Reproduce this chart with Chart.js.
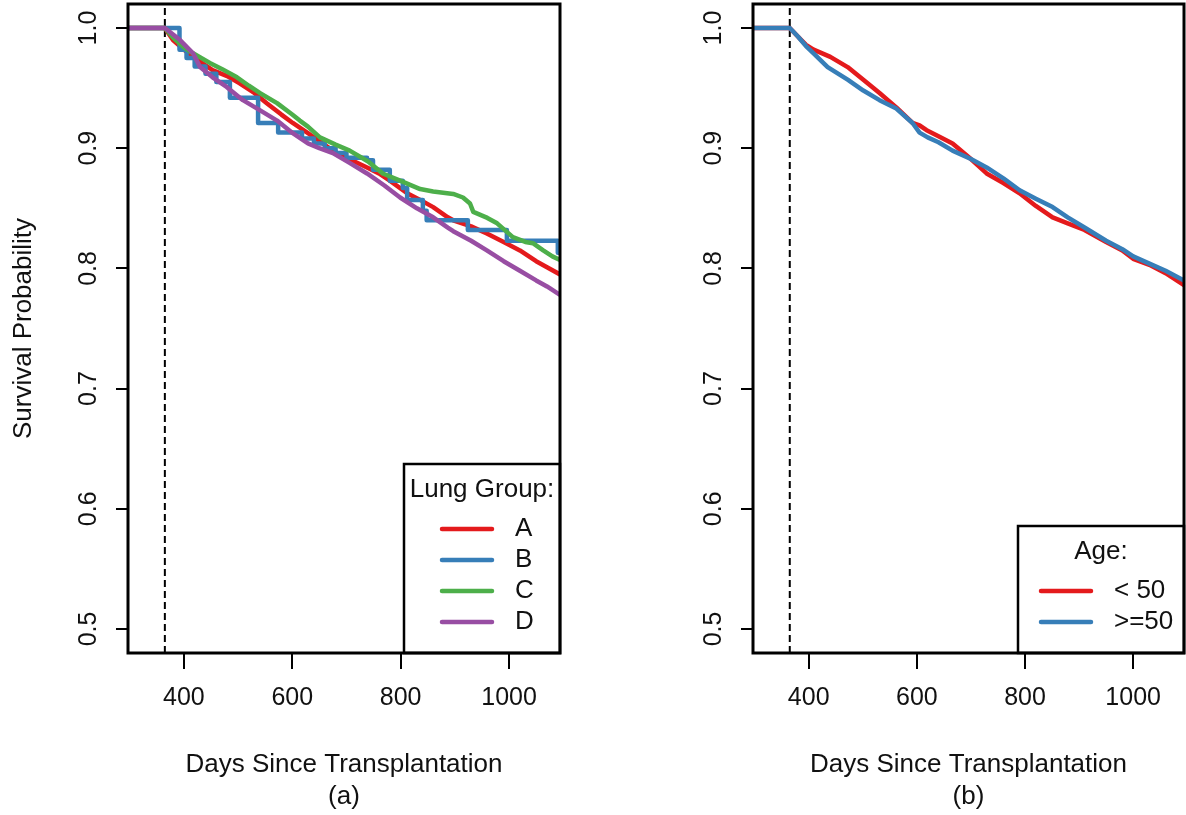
<!DOCTYPE html>
<html><head><meta charset="utf-8">
<script src="https://cdn.jsdelivr.net/npm/chart.js@4.4.1/dist/chart.umd.min.js"></script>
<style>
html,body{margin:0;padding:0;background:#fff;width:1186px;height:815px;overflow:hidden;}
canvas{position:absolute;top:0;}
#c1{left:0;}
#c2{left:625px;}
</style></head><body>
<canvas id="c1" width="593" height="815"></canvas>
<canvas id="c2" width="561" height="815"></canvas>
<script>
// ---------- data ----------
const xTicks = [400, 600, 800, 1000];
const yTicks = [0.5, 0.6, 0.7, 0.8, 0.9, 1.0];
const yTickLabels = ['0.5', '0.6', '0.7', '0.8', '0.9', '1.0'];
const landmarkDay = 365;
const xTitle = 'Days Since Transplantation';
const panelTags = ['(a)', '(b)'];
const yTitle = 'Survival Probability';

const lungTitle = 'Lung Group:';
const lungGroups = ['A', 'B', 'C', 'D'];
const ageTitle = 'Age:';
const ageGroups = ['< 50', '>=50'];

const aDays = [297,365,380,400,430,453,480,503,530,553,580,601,629,650,675,705,738,760,780,812,836,860,887,897,930,959,990,1020,1050,1070,1094];
const aSurv = [1,1,0.99,0.982,0.972,0.965,0.96,0.954,0.946,0.9375,0.928,0.921,0.9125,0.906,0.898,0.891,0.884,0.879,0.873,0.8625,0.857,0.851,0.8425,0.84,0.835,0.829,0.822,0.815,0.806,0.801,0.795];

const bDays = [297,392,405,420,440,460,485,537,574,618,640,660,680,700,738,749,780,804,812,841,848,924,996,1090,1094];
const bSurv = [1,0.982,0.975,0.968,0.962,0.955,0.942,0.921,0.913,0.908,0.904,0.9,0.896,0.892,0.89,0.882,0.873,0.867,0.857,0.848,0.84,0.832,0.823,0.813,0.813];

const cDays = [297,365,380,400,417,448,470,498,520,540,572,600,614,629,651,680,706,740,767,799,836,860,897,915,928,934,960,978,1007,1030,1044,1063,1080,1094];
const cSurv = [1,1,0.992,0.984,0.979,0.971,0.966,0.959,0.952,0.946,0.9375,0.928,0.923,0.918,0.909,0.903,0.898,0.889,0.879,0.873,0.866,0.864,0.862,0.859,0.854,0.847,0.842,0.8375,0.826,0.822,0.821,0.815,0.81,0.807];

const dDays = [297,365,393,417,430,453,479,509,540,572,601,629,650,675,705,738,770,799,830,860,887,897,930,959,990,1020,1050,1070,1094];
const dSurv = [1,1,0.99,0.979,0.9675,0.959,0.951,0.94,0.9317,0.923,0.9125,0.904,0.9,0.896,0.888,0.879,0.869,0.859,0.85,0.8425,0.834,0.831,0.823,0.815,0.806,0.798,0.79,0.785,0.778];

const youngDays = [297,365,380,395,409,440,472,501,531,562,592,605,618,640,666,700,729,760,790,820,851,879,910,950,980,1000,1030,1060,1094];
const youngSurv = [1,1,0.993,0.986,0.982,0.976,0.9675,0.957,0.946,0.934,0.921,0.919,0.915,0.91,0.904,0.891,0.879,0.871,0.8625,0.852,0.8425,0.8375,0.832,0.822,0.815,0.808,0.803,0.796,0.786];

const oldDays = [297,365,380,395,409,435,472,501,531,562,592,605,620,640,666,700,729,760,790,820,851,879,910,950,980,1000,1030,1060,1094];
const oldSurv = [1,1,0.993,0.985,0.979,0.9675,0.957,0.948,0.94,0.933,0.921,0.913,0.909,0.905,0.898,0.891,0.884,0.875,0.865,0.858,0.851,0.8425,0.834,0.823,0.816,0.81,0.804,0.798,0.79];

// ---------- styles ----------
const FONT = '"Liberation Sans", Arial, Helvetica, sans-serif';
const TXT = '#111';
const RED = '#E41A1C', BLUE = '#377EB8', GREEN = '#4DAF4A', PURPLE = '#984EA3';
const X_MIN = 297, X_MAX = 1094, Y_MIN = 0.48, Y_MAX = 1.02;
const FS = 25;

const pts = (xs, ys) => xs.map((x, i) => ({x: x, y: ys[i]}));

function curve(label, xs, ys, color, order, stepped) {
  return {label, data: pts(xs, ys), borderColor: color, backgroundColor: color,
    borderWidth: 4.5, pointRadius: 0, fill: false, tension: 0, stepped: !!stepped,
    borderJoinStyle: 'round', borderCapStyle: 'butt', order};
}
function landmark() {
  return {label: '', data: [{x: landmarkDay, y: Y_MIN}, {x: landmarkDay, y: Y_MAX}],
    borderColor: '#000', borderWidth: 2, borderDash: [7, 4], pointRadius: 0, order: 10};
}

const framePlugin = {
  id: 'frame',
  afterDraw(chart, args, opts) {
    const ctx = chart.ctx, a = chart.chartArea, ys = chart.scales.y;
    ctx.save();
    // rotated y tick labels
    ctx.fillStyle = TXT;
    ctx.font = FS + 'px ' + FONT;
    ctx.textAlign = 'center';
    ctx.textBaseline = 'middle';
    yTicks.forEach((v, i) => {
      const y = ys.getPixelForValue(v);
      ctx.save();
      ctx.translate(a.left - 39, y);
      ctx.rotate(-Math.PI / 2);
      ctx.fillText(yTickLabels[i], 0, 0);
      ctx.restore();
    });
    // legend box
    const L = opts.legend;
    if (L) {
      const right = a.right, bottom = a.bottom;
      const left = right - L.w;
      const n = L.labels.length;
      const rowH = 31;
      const top = bottom - (n * rowH + 39 + 26);
      ctx.fillStyle = '#fff';
      ctx.fillRect(left, top, L.w, bottom - top);
      ctx.strokeStyle = '#000';
      ctx.lineWidth = 2.5;
      ctx.strokeRect(left, top, L.w, bottom - top);
      ctx.fillStyle = TXT;
      ctx.font = '26px ' + FONT;
      ctx.textAlign = 'center';
      const firstY = bottom - n * rowH;
      ctx.fillText(L.title, left + L.titleX, firstY - 39);
      ctx.textAlign = 'left';
      L.labels.forEach((lab, i) => {
        const y = firstY + i * rowH;
        ctx.strokeStyle = L.colors[i];
        ctx.lineWidth = 4.5;
        ctx.lineCap = 'round';
        ctx.beginPath();
        ctx.moveTo(left + L.lineX, y);
        ctx.lineTo(left + L.lineX + 50, y);
        ctx.stroke();
        ctx.fillStyle = TXT;
        ctx.fillText(lab, left + L.lineX + 73, y);
      });
    }
    // plot frame
    ctx.strokeStyle = '#000';
    ctx.lineWidth = 3;
    ctx.lineCap = 'butt';
    ctx.strokeRect(a.left, a.top, a.right - a.left, a.bottom - a.top);
    ctx.restore();
  }
};

function makeOptions(canvasW, rightEdge, showYTitle, tag, legend) {
  return {
    responsive: false, animation: false, events: [],
    layout: {padding: {top: 4, right: canvasW - rightEdge, bottom: 0, left: 0}},
    plugins: {legend: {display: false}, tooltip: {enabled: false}, frame: {legend}},
    scales: {
      x: {
        type: 'linear', min: X_MIN, max: X_MAX,
        afterBuildTicks: s => { s.ticks = xTicks.map(v => ({value: v})); },
        afterFit: s => { s.height = 162; },
        border: {display: false},
        grid: {drawOnChartArea: false, drawTicks: true, tickLength: 16, tickWidth: 2,
               tickColor: '#000', color: '#000', lineWidth: 2},
        ticks: {padding: 14, font: {size: FS, family: FONT}, color: TXT,
                maxRotation: 0, minRotation: 0, autoSkip: false, callback: v => String(v)},
        title: {display: true, text: [xTitle, tag], color: TXT,
                font: {size: 26, family: FONT, lineHeight: 1.23}, padding: {top: 0, bottom: 2}}
      },
      y: {
        type: 'linear', min: Y_MIN, max: Y_MAX,
        afterBuildTicks: s => { s.ticks = yTicks.map(v => ({value: v})); },
        afterFit: s => { s.width = 128; },
        border: {display: false},
        grid: {drawOnChartArea: false, drawTicks: true, tickLength: 12, tickWidth: 2,
               tickColor: '#000', color: '#000', lineWidth: 2},
        ticks: {display: false},
        title: {display: showYTitle, text: yTitle, color: TXT,
                font: {size: 26, family: FONT, lineHeight: 1.2}, padding: {top: 8, bottom: 0}}
      }
    }
  };
}

new Chart(document.getElementById('c1'), {
  type: 'line',
  data: {datasets: [
    curve(lungGroups[0], aDays, aSurv, RED, 3),
    curve(lungGroups[1], bDays, bSurv, BLUE, 2, true),
    curve(lungGroups[2], cDays, cSurv, GREEN, 1),
    curve(lungGroups[3], dDays, dSurv, PURPLE, 0),
    landmark()
  ]},
  options: makeOptions(593, 560, true, panelTags[0],
    {title: lungTitle, labels: lungGroups, colors: [RED, BLUE, GREEN, PURPLE], w: 156, titleX: 78, lineX: 38}),
  plugins: [framePlugin]
});

new Chart(document.getElementById('c2'), {
  type: 'line',
  data: {datasets: [
    curve(ageGroups[0], youngDays, youngSurv, RED, 1),
    curve(ageGroups[1], oldDays, oldSurv, BLUE, 0),
    landmark()
  ]},
  options: makeOptions(561, 559, false, panelTags[1],
    {title: ageTitle, labels: ageGroups, colors: [RED, BLUE], w: 166, titleX: 83, lineX: 23}),
  plugins: [framePlugin]
});
</script>
</body></html>
